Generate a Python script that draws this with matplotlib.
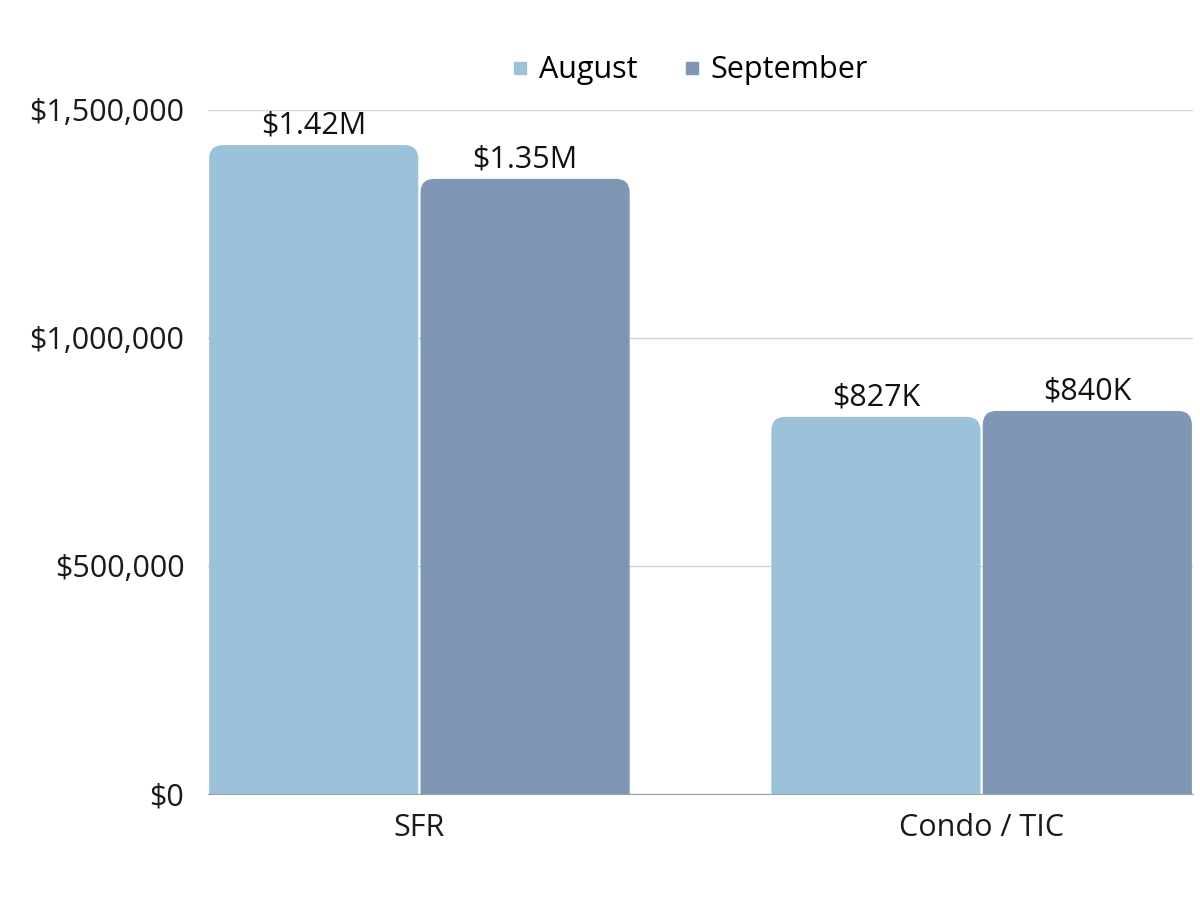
import matplotlib.pyplot as plt
from matplotlib.patches import FancyBboxPatch
from matplotlib.ticker import FuncFormatter
import numpy as np

categories = ['SFR', 'Condo / TIC']
series = ['August', 'September']
august = [1423000, 827000]
september = [1349000, 840000]
labels_aug = ['$1.42M', '$827K']
labels_sep = ['$1.35M', '$840K']
colors = ['#9bc2d8', '#7f97b4']

plt.rcParams['font.family'] = ['Open Sans', 'DejaVu Sans']

fig = plt.figure(figsize=(12, 9), dpi=100)
ax = fig.add_axes([0.1733, 0.1178, 0.8209, 0.76])

x = np.arange(len(categories))
w = 0.376
ax.set_xlim(-w, 1 + w)
ax.set_ylim(0, 1500000)

# px per data unit, used to keep the corner rounding circular
xpx = 0.8209 * 1200 / (1 + 2 * w)
ypx = 0.76 * 900 / 1500000.0
radius = 14.0 / xpx

def rounded_bars(xs, vals, offset, color, texts):
  for xi, v, t in zip(xs, vals, texts):
    x0 = xi + offset + 0.002
    bw = w - 0.004
    p = FancyBboxPatch((x0, -80000), bw, v + 80000,
                       boxstyle='round,pad=0,rounding_size=%f' % radius,
                       mutation_aspect=xpx / ypx,
                       fc=color, ec='none', zorder=2)
    ax.add_patch(p)
    ax.text(x0 + bw / 2, v + 10000, t, ha='center', va='bottom',
            fontsize=22, color='#111111', zorder=3)

rounded_bars(x, august, -w, colors[0], labels_aug)
rounded_bars(x, september, 0, colors[1], labels_sep)

ax.set_yticks([0, 500000, 1000000, 1500000])
ax.yaxis.set_major_formatter(FuncFormatter(lambda v, p: '${:,.0f}'.format(v)))
ax.set_xticks(x)
ax.set_xticklabels(categories)
ax.tick_params(axis='both', length=0, labelsize=22, colors='#1a1a1a')
ax.tick_params(axis='x', pad=14)
ax.tick_params(axis='y', pad=17)
ax.grid(axis='y', color='#cdd3db', lw=1, zorder=0)
ax.set_axisbelow(True)
for s in ['top', 'right', 'left']:
  ax.spines[s].set_visible(False)
ax.spines['bottom'].set_color('#9aa4ae')
ax.spines['bottom'].set_zorder(4)

handles = [plt.Line2D([], [], marker='s', ls='none', color=c, markersize=9) for c in colors]
fig.legend(handles, series, loc='center', bbox_to_anchor=(0.572, 0.922), ncol=2,
           frameon=False, fontsize=22, handletextpad=0.1, columnspacing=1.3,
           handlelength=1.0)

fig.savefig('out.png', dpi=100, facecolor='white')
